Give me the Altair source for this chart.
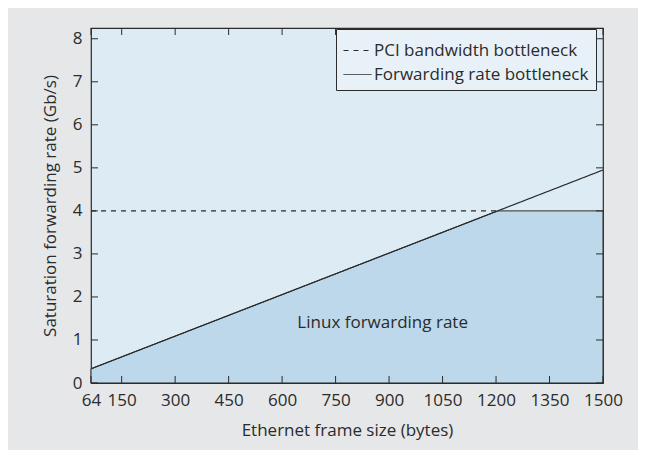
import altair as alt
import pandas as pd

# ---- data ----
series_names = ["PCI bandwidth bottleneck", "Forwarding rate bottleneck"]
pci_x = [64, 1205]
pci_y = [4.0, 4.0]
fwd_x = [64, 1500]
fwd_y = [0.33, 4.95]
linux_x = [64, 1205, 1500]
linux_y = [0.33, 4.0, 4.0]
x_ticks = [64, 150, 300, 450, 600, 750, 900, 1050, 1200, 1350, 1500]
y_ticks = [0, 1, 2, 3, 4, 5, 6, 7, 8]
label_text = ["Linux forwarding rate"]
label_x = [882]
label_y = [1.40]

FONT = "Open Sans"
FS = 17
INK = "#2b2b2b"
W, H = 512, 355
TICK = 7

lines_df = pd.DataFrame(
    {"series": [series_names[0]] * 2 + [series_names[1]] * 2,
     "x": pci_x + fwd_x,
     "y": pci_y + fwd_y}
)
area_df = pd.DataFrame({"x": linux_x, "y": linux_y})
xt_df = pd.DataFrame({"t": x_ticks})
yt_df = pd.DataFrame({"t": y_ticks})
lab_df = pd.DataFrame({"text": label_text, "x": label_x, "y": label_y})

xscale = alt.Scale(domain=[64, 1500], nice=False, zero=False)
yscale = alt.Scale(domain=[0, 8.25], nice=False)

xaxis = alt.Axis(values=x_ticks, format="d", ticks=False, domain=False, grid=False,
                 labelFont=FONT, labelFontSize=FS, labelColor=INK, labelPadding=9,
                 labelFlush=False, labelOverlap=False,
                 title="Ethernet frame size (bytes)", titleFont=FONT, titleFontSize=FS,
                 titleFontWeight="normal", titleColor=INK,
                 titleY=47, titleBaseline="middle")
yaxis = alt.Axis(values=y_ticks, format="d", ticks=False, domain=False, grid=False,
                 labelFont=FONT, labelFontSize=FS, labelColor=INK, labelPadding=9,
                 labelFlush=False, labelOverlap=False,
                 title="Saturation forwarding rate (Gb/s)", titleFont=FONT, titleFontSize=FS,
                 titleFontWeight="normal", titleColor=INK,
                 titleX=-41, titleY=H / 2, titleAngle=-90, titleBaseline="middle",
                 titleAlign="center")

area = alt.Chart(area_df).mark_area(
    color="#bcd8ea", stroke=INK, strokeWidth=1, opacity=1
).encode(
    x=alt.X("x:Q", scale=xscale, axis=xaxis),
    y=alt.Y("y:Q", scale=yscale, axis=yaxis),
)

lines = alt.Chart(lines_df).mark_line(color=INK, strokeWidth=1.2).encode(
    x=alt.X("x:Q", scale=xscale),
    y=alt.Y("y:Q", scale=yscale),
    strokeDash=alt.StrokeDash(
        "series:N",
        scale=alt.Scale(domain=series_names, range=[[5, 5], [1, 0]]),
        legend=alt.Legend(
            title=None, orient="none", legendX=245, legendY=1,
            fillColor="#e8f1f7", strokeColor=INK, padding=7,
            labelFont=FONT, labelFontSize=17, labelColor=INK, labelOffset=2,
            labelLimit=400, symbolType="stroke", symbolSize=784,
            symbolStrokeColor=INK, symbolStrokeWidth=1, rowPadding=1,
        ),
    ),
)

ticks_bottom = alt.Chart(xt_df).mark_rule(color=INK, strokeWidth=1).encode(
    x=alt.X("t:Q", scale=xscale), y=alt.value(H - TICK), y2=alt.value(H)
)
ticks_top = alt.Chart(xt_df).mark_rule(color=INK, strokeWidth=1).encode(
    x=alt.X("t:Q", scale=xscale), y=alt.value(0), y2=alt.value(TICK)
)
ticks_left = alt.Chart(yt_df).mark_rule(color=INK, strokeWidth=1).encode(
    y=alt.Y("t:Q", scale=yscale), x=alt.value(0), x2=alt.value(TICK)
)
ticks_right = alt.Chart(yt_df).mark_rule(color=INK, strokeWidth=1).encode(
    y=alt.Y("t:Q", scale=yscale), x=alt.value(W - TICK), x2=alt.value(W)
)

label = alt.Chart(lab_df).mark_text(
    font=FONT, fontSize=FS, color=INK, align="center", baseline="middle"
).encode(
    x=alt.X("x:Q", scale=xscale),
    y=alt.Y("y:Q", scale=yscale),
    text="text:N",
)

chart = alt.layer(
    area, lines, ticks_bottom, ticks_top, ticks_left, ticks_right, label
).properties(
    width=W, height=H,
    autosize=alt.AutoSizeParams(type="none"),
    padding={"left": 83, "top": 20, "right": 35, "bottom": 67},
    background="#e6e7e8",
).configure_view(
    fill="#ddebf4", stroke=INK, strokeWidth=1.2
)

chart.save("out.html", embed_options={"renderer": "svg", "actions": False})
